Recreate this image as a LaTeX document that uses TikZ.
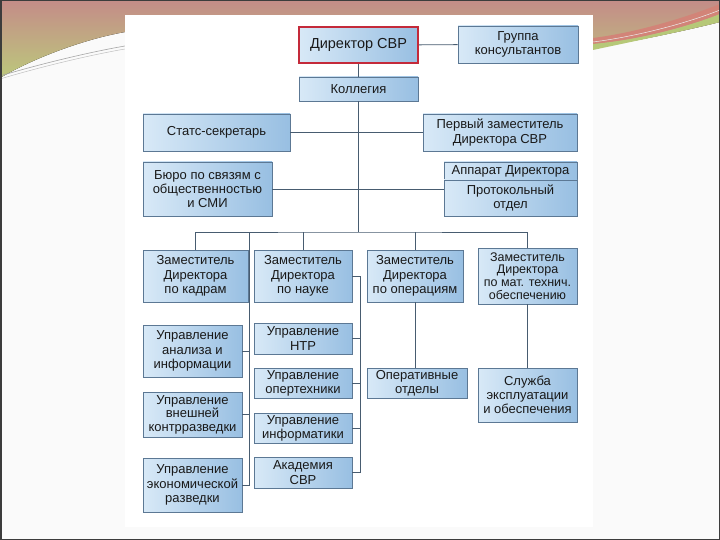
\documentclass[tikz,border=0pt]{standalone}
\usepackage{fontspec}
\setmainfont{Liberation Sans}
\definecolor{boxlight}{RGB}{216,233,247}
\definecolor{boxdark}{RGB}{152,191,226}
\definecolor{boxline}{RGB}{92,120,148}
\definecolor{chiefred}{RGB}{196,42,58}
\definecolor{linkgray}{RGB}{72,92,112}
\definecolor{slidebg}{RGB}{250,250,250}
\definecolor{rosetop}{RGB}{196,140,136}
\definecolor{olivebot}{RGB}{188,200,124}
\definecolor{ribbonred}{RGB}{210,132,120}
\definecolor{ribbongreen}{RGB}{182,200,120}
\definecolor{framegray}{RGB}{60,60,60}
\begin{document}
\begin{tikzpicture}[x=1pt, y=-1pt,
    box/.style={draw=boxline, line width=0.8pt, left color=boxlight, right color=boxdark,
      align=center, inner sep=0pt, text=black!90,
      font=\fontsize{13}{14.2}\selectfont},
    chief/.style={box, draw=chiefred, line width=2.2pt, font=\fontsize{14.5}{16}\selectfont},
    link/.style={draw=linkgray, line width=0.9pt}]
    \useasboundingbox (0,0) rectangle (720,540);
    % slide
    \fill [slidebg] (0,0) rectangle (720,540);
    \fill [top color=rosetop, bottom color=olivebot] (0,0) -- (720,0) -- (720,22)
        .. controls (680,32) and (630,42) .. (593,48) -- (593,15) -- (125,15) -- (125,32)
        .. controls (80,40) and (30,60) .. (0,78) -- cycle;
    \fill [ribbonred] (593,38) .. controls (640,32) and (690,16) .. (720,4) -- (720,14)
        .. controls (690,26) and (640,40) .. (593,44) -- cycle;
    \fill [ribbongreen] (593,44) .. controls (640,40) and (690,26) .. (720,14) -- (720,22)
        .. controls (680,32) and (630,42) .. (593,50) -- cycle;
    \draw [gray!70, line width=0.6pt] (0,76) .. controls (40,64) and (90,52) .. (125,46);
    \draw [gray!50, line width=0.5pt] (0,79) .. controls (40,67) and (90,55) .. (125,49);
    \draw [white!85!gray, line width=0.5pt] (593,42) .. controls (640,36) and (690,22) .. (720,10);
    \fill [white] (125,15) rectangle (593,527);
    \draw [framegray, line width=1.5pt] (0.75,0.75) rectangle (719.25,539.25);
    % top
    \node [chief, minimum width=119, minimum height=36] (dir) at (358.5,45) {Директор СВР};
    \node [box, minimum width=120, minimum height=37] (grp) at (518,44.5) {Группа\\консультантов};
    \node [box, minimum width=119, minimum height=24] (kol) at (358.5,89) {Коллегия};
    \node [box, minimum width=147, minimum height=37] (ss) at (216.5,132.5) {Статс-секретарь};
    \node [box, minimum width=154, minimum height=37] (fd) at (500,132.5) {Первый заместитель\\Директора СВР};
    \node [box, minimum width=129, minimum height=54] (buro) at (207.5,189) {Бюро по связям с\\общественностью\\и СМИ};
    \node [box, minimum width=133, minimum height=18] (app) at (510.5,171) {Аппарат Директора};
    \node [box, minimum width=133, minimum height=36] (prot) at (510.5,198) {Протокольный\\отдел};
    % deputies
    \node [box, minimum width=105, minimum height=52] (zk1) at (195.5,276) {Заместитель\\Директора\\по кадрам};
    \node [box, minimum width=98, minimum height=52] (zk2) at (303,276) {Заместитель\\Директора\\по науке};
    \node [box, minimum width=96, minimum height=52] (zk3) at (415,276) {Заместитель\\Директора\\по операциям};
    \node [box, minimum width=99, minimum height=56, font=\fontsize{12.5}{12.8}\selectfont] (zk4) at (527.5,276)
        {Заместитель\\Директора\\по мат. технич.\\обеспечению};
    % departments
    \node [box, minimum width=99, minimum height=52] (ua) at (192.5,351) {Управление\\анализа и\\информации};
    \node [box, minimum width=99, minimum height=45, font=\fontsize{13}{13.4}\selectfont] (uv) at (192.5,414.5)
        {Управление\\внешней\\контрразведки};
    \node [box, minimum width=99, minimum height=54] (ue) at (192.5,485) {Управление\\экономической\\разведки};
    \node [box, minimum width=98, minimum height=31] (ntr) at (303,338.5) {Управление\\НТР};
    \node [box, minimum width=98, minimum height=30] (opt) at (303,383) {Управление\\опертехники};
    \node [box, minimum width=98, minimum height=30] (inf) at (303,428) {Управление\\информатики};
    \node [box, minimum width=98, minimum height=31] (akad) at (303,472.5) {Академия\\СВР};
    \node [box, minimum width=100, minimum height=30] (ops) at (417,383) {Оперативные\\отделы};
    \node [box, minimum width=99, minimum height=54] (serv) at (527.5,395) {Служба\\эксплуатации\\и обеспечения};
    % links
    \coordinate (bus) at (358.5,232);
    \coordinate (lv) at (249,232);
    \coordinate (rv) at ([xshift=8pt]zk2.east);
    \draw [link] (dir) -- (grp);
    \draw [link] (dir) -- (kol);
    \draw [link] (kol) -- (bus);
    \draw [link] (ss) -- (fd);
    \draw [link] (buro.east) -- (buro.east -| prot.west);
    \draw [link] (zk1.north) |- (bus) -| (zk4.north);
    \draw [link] (zk2.north) -- (zk2.north |- bus);
    \draw [link] (zk3.north) -- (zk3.north |- bus);
    \draw [link] (lv) |- (ue.east);
    \foreach \n in {ua,uv}
        \draw [link] (\n.east) -- (\n.east -| lv);
    \draw [link] (zk2.east) -- (rv) |- (akad.east);
    \foreach \n in {ntr,opt,inf}
        \draw [link] (\n.east) -- (\n.east -| rv);
    \draw [link] (zk3.south) -- (zk3.south |- ops.north);
    \draw [link] (zk4.south) -- (zk4.south |- serv.north);
\end{tikzpicture}
\end{document}
